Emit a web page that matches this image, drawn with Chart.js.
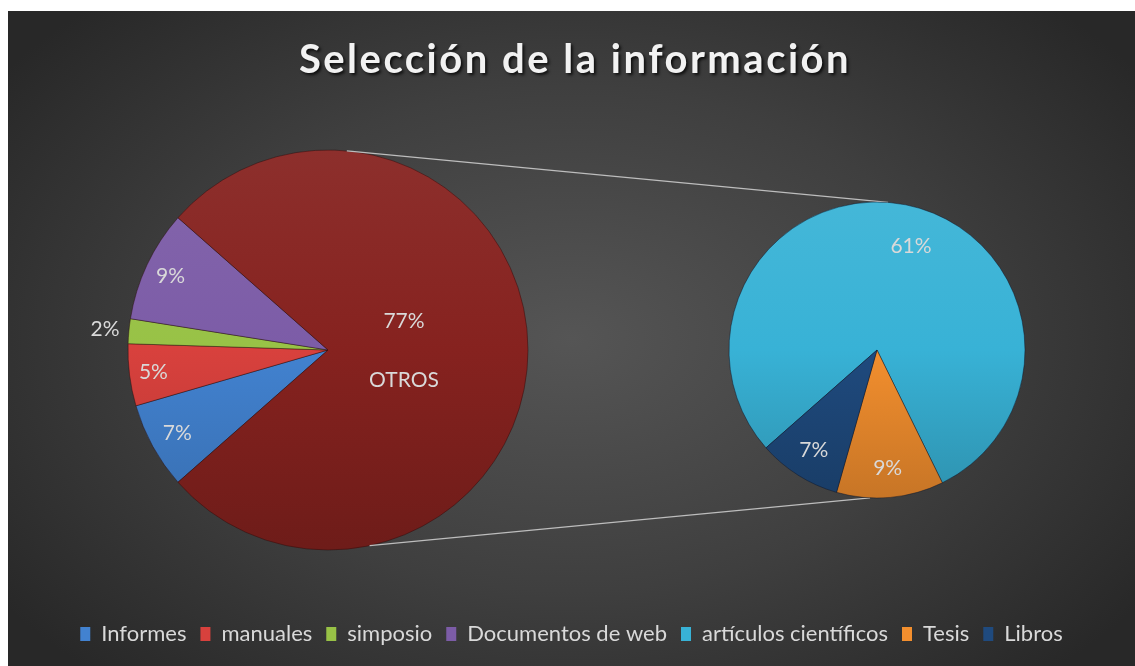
<!DOCTYPE html>
<html>
<head>
<meta charset="utf-8">
<script src="https://cdn.jsdelivr.net/npm/chart.js@4.4.1/dist/chart.umd.min.js"></script>
<style>
  html, body { margin: 0; padding: 0; background: #fff; }
  #frame {
    position: absolute; left: 8px; top: 11px; width: 1127px; height: 655px;
    background: radial-gradient(ellipse 62% 70% at 50% 50%, #555 0%, #3f3f3f 55%, #282828 100%);
  }
  #frame canvas { position: absolute; left: 0; top: 0; }
</style>
</head>
<body>
<div id="frame">
  <canvas id="mainPie" width="1127" height="655"></canvas>
  <canvas id="subPie" width="1127" height="655"></canvas>
</div>
<script>
// Data (percentages)
const mainLabels = ['Informes', 'manuales', 'simposio', 'Documentos de web', 'OTROS'];
const mainValues = [7, 5, 2, 9, 77];
const subLabels = ['artículos científicos', 'Tesis', 'Libros'];
const subValues = [61, 9, 7];

const mainColors = ['#4282d0', '#d8413d', '#98c246', '#7c5ca7', '#86221f'];
const subColors = ['#38b2d6', '#f38f2e', '#1f4a7e'];

const FONT = 'Lato, "Open Sans", sans-serif';
const TEXT = '#d9d9d9';

// lighten (amt > 0) or darken (amt < 0) a hex colour
function shade(hex, amt) {
  const n = parseInt(hex.slice(1), 16);
  const f = c => Math.round(amt > 0 ? c + (255 - c) * amt : c * (1 + amt));
  return `rgb(${f(n >> 16)},${f((n >> 8) & 255)},${f(n & 255)})`;
}

// vertical gradient over the pie, a bit lighter on top, darker at the bottom
function sliceFill(colors) {
  return (c) => {
    const area = c.chart.chartArea;
    if (!area) return colors[c.dataIndex];
    const base = colors[c.dataIndex];
    const g = c.chart.ctx.createLinearGradient(0, area.top, 0, area.bottom);
    g.addColorStop(0, shade(base, 0.06));
    g.addColorStop(0.5, base);
    g.addColorStop(1, shade(base, -0.18));
    return g;
  };
}

// Put the pie's centre and radius where they sit in the picture
const placePie = {
  id: 'placePie',
  afterLayout(chart, args, opts) {
    const a = chart.chartArea;
    a.left = opts.cx - opts.r; a.right = opts.cx + opts.r;
    a.top = opts.cy - opts.r; a.bottom = opts.cy + opts.r;
    a.width = opts.r * 2; a.height = opts.r * 2;
  }
};

// Percent labels inside / next to slices
const sliceLabels = {
  id: 'sliceLabels',
  afterDatasetsDraw(chart, args, opts) {
    const ctx = chart.ctx;
    const values = chart.data.datasets[0].data;
    ctx.save();
    ctx.font = '21px ' + FONT;
    ctx.fillStyle = TEXT;
    ctx.textAlign = 'center';
    ctx.textBaseline = 'middle';
    chart.getDatasetMeta(0).data.forEach((arc, i) => {
      const p = arc.getProps(['x', 'y', 'startAngle', 'endAngle', 'outerRadius'], true);
      const mid = (p.startAngle + p.endAngle) / 2 + (opts.turn ? opts.turn[i] : 0);
      const d = p.outerRadius * opts.dist[i];
      const x = p.x + Math.cos(mid) * d;
      const y = p.y + Math.sin(mid) * d;
      if (opts.category && opts.category[i]) {
        ctx.fillText(values[i] + '%', x, y - 29);
        ctx.fillText(opts.category[i], x, y + 30);
      } else {
        ctx.fillText(values[i] + '%', x, y);
      }
    });
    ctx.restore();
  }
};

const titleText = {
  id: 'titleText',
  afterDraw(chart, args, opts) {
    const ctx = chart.ctx;
    ctx.save();
    ctx.font = 'bold 40px ' + FONT;
    ctx.letterSpacing = '2.5px';
    ctx.fillStyle = '#f2f2f2';
    ctx.textAlign = 'center';
    ctx.textBaseline = 'middle';
    ctx.shadowColor = 'rgba(0,0,0,0.75)';
    ctx.shadowOffsetX = 2;
    ctx.shadowOffsetY = 2;
    ctx.shadowBlur = 3;
    ctx.fillText(opts.text, opts.x, opts.y);
    ctx.restore();
  }
};

const mainChart = new Chart(document.getElementById('mainPie'), {
  type: 'pie',
  data: {
    labels: mainLabels,
    datasets: [{
      data: mainValues,
      backgroundColor: sliceFill(mainColors),
      borderColor: 'rgba(40,10,10,0.45)',
      borderWidth: 1
    }]
  },
  options: {
    responsive: false,
    animation: false,
    rotation: 228.6,
    radius: 200,
    events: [],
    plugins: {
      legend: { display: false },
      tooltip: { enabled: false },
      placePie: { cx: 320, cy: 339, r: 200 },
      sliceLabels: { dist: [0.86, 0.88, 1.12, 0.87, 0.38], category: [null, null, null, null, 'OTROS'] }
    }
  },
  plugins: [placePie, sliceLabels]
});

// Lines joining the OTROS slice to the second pie
const connectors = {
  id: 'connectors',
  beforeDatasetsDraw(chart, args, opts) {
    const a = mainChart.getDatasetMeta(0).data[0];
    const b = chart.getDatasetMeta(0).data[0];
    const pt = (arc, deg) => {
      const t = deg * Math.PI / 180;
      return [arc.x + Math.cos(t) * arc.outerRadius, arc.y + Math.sin(t) * arc.outerRadius];
    };
    const ctx = chart.ctx;
    ctx.save();
    ctx.strokeStyle = '#bdbdbd';
    ctx.lineWidth = 1.2;
    [[-84.6, -85.7], [78, 92.7]].forEach(([da, db]) => {
      const p = pt(a, da), q = pt(b, db);
      ctx.beginPath();
      ctx.moveTo(p[0], p[1]);
      ctx.lineTo(q[0], q[1]);
      ctx.stroke();
    });
    ctx.restore();
  }
};

new Chart(document.getElementById('subPie'), {
  type: 'pie',
  data: {
    labels: subLabels,
    datasets: [{
      data: subValues,
      backgroundColor: sliceFill(subColors),
      borderColor: 'rgba(10,20,40,0.45)',
      borderWidth: 1
    }]
  },
  options: {
    responsive: false,
    animation: false,
    rotation: 228.6,
    radius: 148,
    events: [],
    layout: { padding: { bottom: 11 } },
    plugins: {
      tooltip: { enabled: false },
      legend: {
        position: 'bottom',
        onClick: null,
        labels: {
          boxWidth: 10,
          boxHeight: 14,
          padding: 14,
          color: TEXT,
          font: { family: FONT, size: 22 },
          generateLabels: () => {
            const names = mainLabels.slice(0, 4).concat(subLabels);
            const cols = mainColors.slice(0, 4).concat(subColors);
            return names.map((text, i) => ({
              text, fillStyle: cols[i], strokeStyle: cols[i], lineWidth: 0,
              fontColor: TEXT, hidden: false, index: i
            }));
          }
        }
      },
      placePie: { cx: 869, cy: 339, r: 148 },
      sliceLabels: { dist: [0.74, 0.8, 0.8], turn: [0.12, 0, 0] },
      titleText: { text: 'Selección de la información', x: 567, y: 49 }
    }
  },
  plugins: [placePie, connectors, sliceLabels, titleText]
});
</script>
</body>
</html>
